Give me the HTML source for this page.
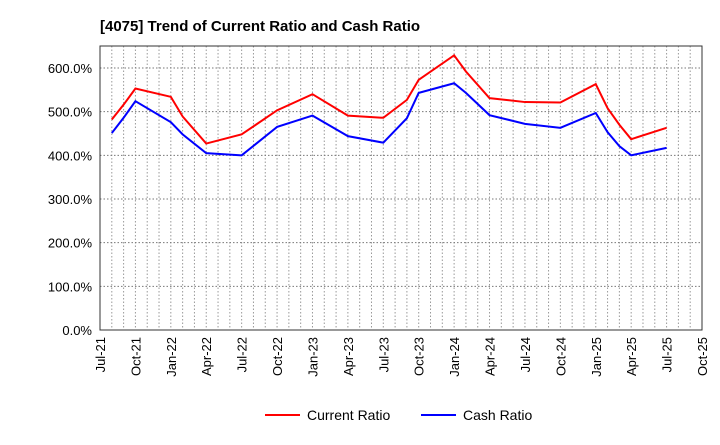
<!DOCTYPE html>
<html><head><meta charset="utf-8"><style>
body{margin:0;background:#fff;font-family:"Liberation Sans",Arial,sans-serif}
</style></head><body>
<svg id="c" width="720" height="440" xmlns="http://www.w3.org/2000/svg">
<text x="100" y="31" font-size="15" font-weight="bold" fill="#000">[4075]  Trend of Current Ratio and Cash Ratio</text>
<g id="grid"></g><g id="axes"></g><g id="series"></g>
<g>
<g><line x1="265" y1="415" x2="300" y2="415" stroke="#f00" stroke-width="2"/><text x="307" y="420" font-size="14">Current Ratio</text></g>
<g><line x1="421" y1="415" x2="456" y2="415" stroke="#00f" stroke-width="2"/><text x="463" y="420" font-size="14">Cash Ratio</text></g>
</g>
</svg>
<script>
const monthIdx=[1,2,3,6,7,9,12,15,18,21,24,26,27,30,31,33,36,39,42,43,44,45,48];
const currentRatio=[482,516,553,534,489,427,448,503,540,491,486,527,573,629,592,531,522,521,563,508,470,437,463];
const cashRatio=[451,486,524,476,448,405,400,465,491,444,429,485,543,565,543,492,472,463,497,453,421,400,417];
const xTickLabels=["Jul-21","Oct-21","Jan-22","Apr-22","Jul-22","Oct-22","Jan-23","Apr-23","Jul-23","Oct-23","Jan-24","Apr-24","Jul-24","Oct-24","Jan-25","Apr-25","Jul-25","Oct-25"];
const yTicks=[0,100,200,300,400,500,600];
const L=100,R=702,T=46,B=330,NM=51;
const x=m=>L+(R-L)*m/NM, y=v=>B-(B-68)*v/600;
const ns="http://www.w3.org/2000/svg";
function mk(tag,attrs,parent){const e=document.createElementNS(ns,tag);for(const k in attrs)e.setAttribute(k,attrs[k]);parent.appendChild(e);return e;}
const grid=document.getElementById('grid'),axes=document.getElementById('axes'),ser=document.getElementById('series');
for(let m=1;m<NM;m++){const g=mk('line',{x1:x(m),x2:x(m),y1:T,y2:B,stroke:'#999','stroke-dasharray':'1.5,2','stroke-width':1},grid);

}
yTicks.forEach(v=>{if(v>0){const g=mk('line',{x1:L,x2:R,y1:y(v),y2:y(v),stroke:'#777','stroke-dasharray':'1.5,2','stroke-width':1},grid);

}
const t=mk('text',{x:L-8,y:y(v)+5,'text-anchor':'end','font-size':13},axes);t.textContent=v.toFixed(1)+'%';

});
const fr=mk('rect',{x:L,y:T,width:R-L,height:B-T,fill:'none',stroke:'#333','stroke-width':1},axes);


xTickLabels.forEach((s,i)=>{const xx=x(i*3);const t=mk('text',{x:0,y:0,'text-anchor':'end','font-size':13,transform:`translate(${xx+5},${B+7}) rotate(-90)`},axes);t.textContent=s;

});
function line(vals,col,name){const p=mk('polyline',{points:monthIdx.map((m,i)=>x(m)+','+y(vals[i])).join(' '),fill:'none',stroke:col,'stroke-width':2},ser);

}
line(currentRatio,'#f00','current-ratio-line');
line(cashRatio,'#00f','cash-ratio-line');
</script>
</body></html>
